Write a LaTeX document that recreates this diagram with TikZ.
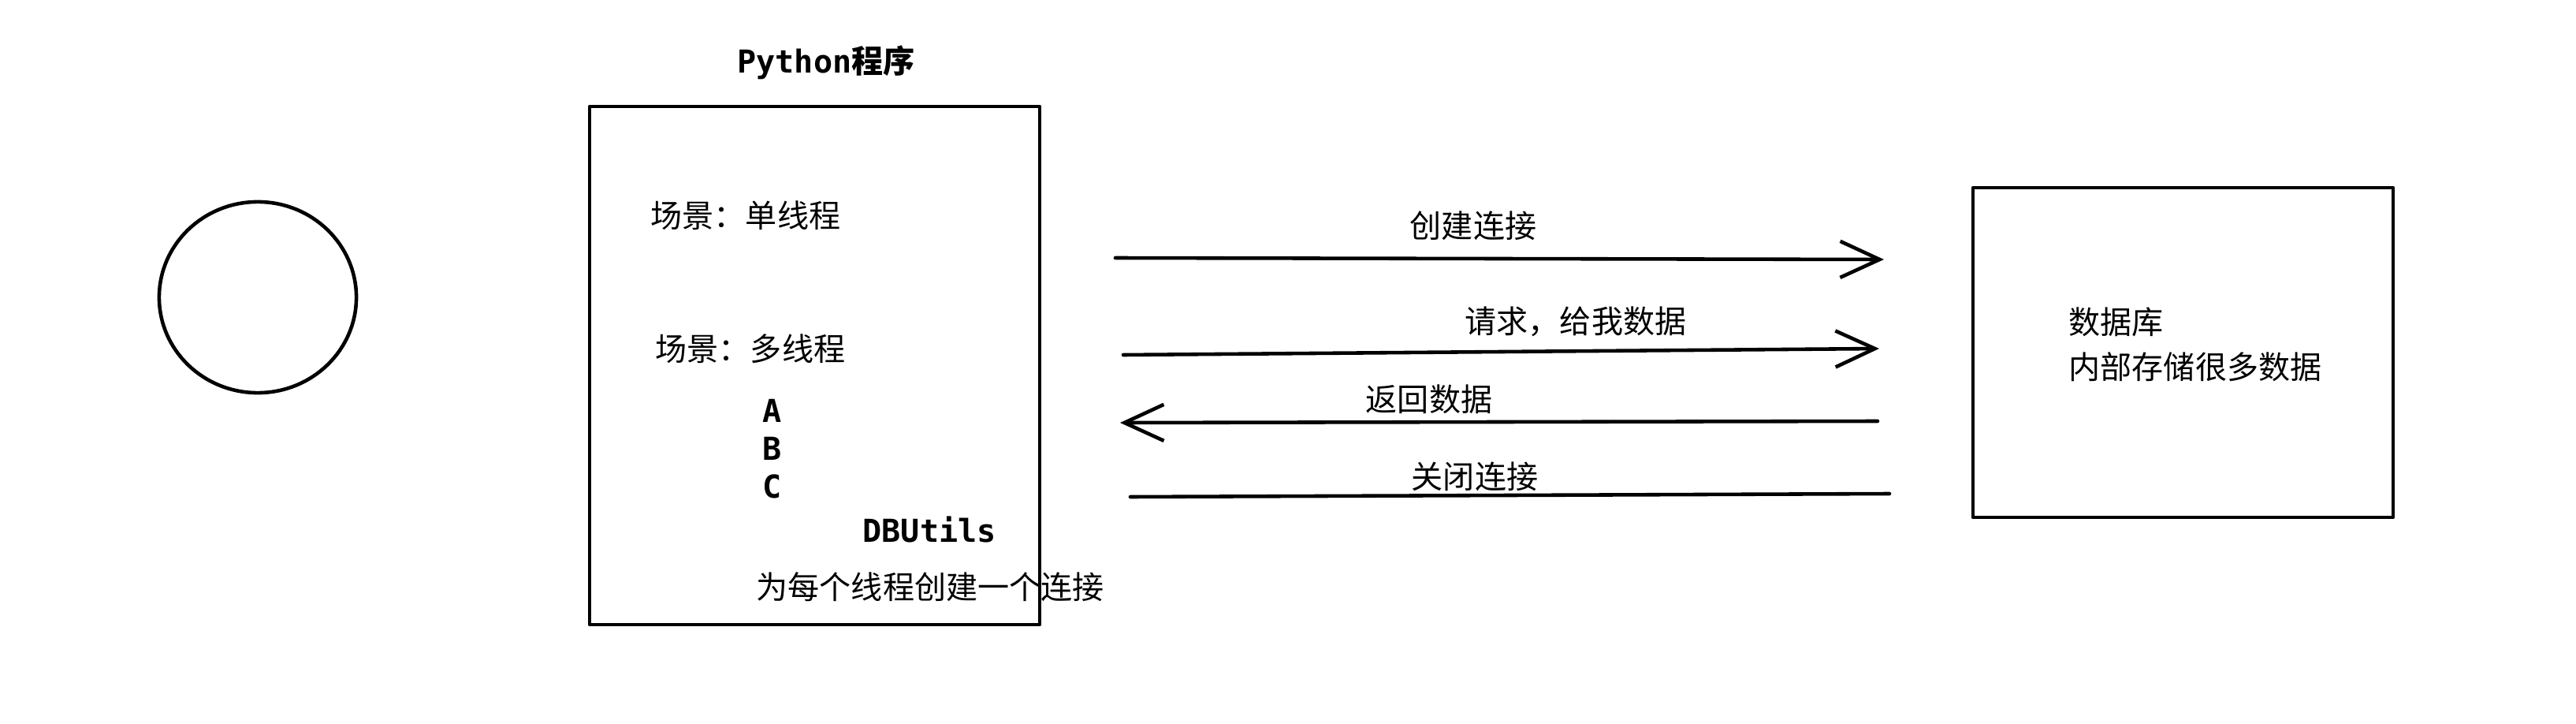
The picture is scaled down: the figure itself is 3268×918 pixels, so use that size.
\documentclass[tikz,border=0pt]{standalone}
\usepackage{fontspec}
\newfontfamily\cjk{Noto Sans CJK SC}
\newfontfamily\mono{DejaVu Sans Mono}
\usetikzlibrary{arrows.meta}

\tikzset{
  sketch/.style={line width=1.3pt, line cap=round, line join=round},
  zh/.style={font=\cjk\fontsize{11.4}{17}\selectfont, inner sep=0pt},
  code/.style={font=\mono\bfseries\fontsize{11.4}{17}\selectfont, inner sep=0pt},
  barb/.style={-{Straight Barb[length=5mm,width=4.6mm,line width=1.3pt]}}
}

\begin{document}
\begin{tikzpicture}[x=0.01cm, y=-0.01cm]
			%%%%% START %%%%%
			\useasboundingbox (0, 0) rectangle (3268, 918);
			
			% client
			\draw[sketch] (327, 377) ellipse [x radius=1.25cm, y radius=1.21cm];
			
			% python program
			\node[code] (pytitle) at (1048, 79) {Python{\cjk 程序}};
			\draw[sketch] (748, 135) rectangle (1319, 792);
			\node[zh, anchor=west] (single) at (825, 273) {场景：单线程};
			\node[zh, anchor=west] (multi) at (831, 442) {场景：多线程};
			\node[code] (ta) at (980, 521) {A};
			\node[code] (tb) at (980, 569) {B};
			\node[code] (tc) at (980, 617) {C};
			\node[code, anchor=west] (dbutils) at (1094, 671) {DBUtils};
			\node[zh, anchor=west] (perthread) at (959, 744) {为每个线程创建一个连接};
			
			% database
			\draw[sketch] (2503, 238) rectangle (3036, 656);
			\node[zh, anchor=west] (dbname) at (2624, 408) {数据库};
			\node[zh, anchor=west] (dbinfo) at (2624, 465) {内部存储很多数据};
			
			% messages
			\coordinate (open1) at (1415, 327);
			\coordinate (open2) at (2390, 329);
			\coordinate (req1) at (1425, 450);
			\coordinate (req2) at (2384, 442);
			\coordinate (ret1) at (2382, 534);
			\coordinate (ret2) at (1421, 536);
			\coordinate (close1) at (1434, 630);
			\coordinate (close2) at (2397, 626);
			
			\draw[sketch, barb] (open1) -- (open2);
			\draw[sketch, barb] (req1) -- (req2);
			\draw[sketch, barb] (ret1) -- (ret2);
			\draw[sketch] (close1) -- (close2);
			
			\node[zh] (lopen) at (1869, 286) {创建连接};
			\node[zh] (lreq) at (1999, 408) {请求，给我数据};
			\node[zh] (lret) at (1813, 506) {返回数据};
			\node[zh] (lclose) at (1871, 604) {关闭连接};
			%%%%% END %%%%%
\end{tikzpicture}
\end{document}
